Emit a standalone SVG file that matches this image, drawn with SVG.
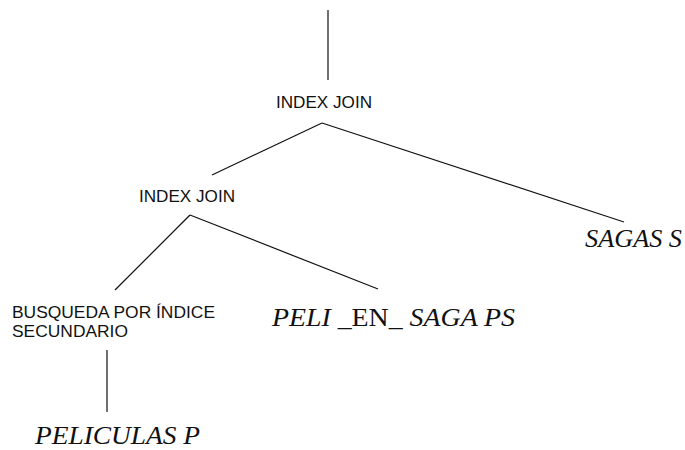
<svg xmlns="http://www.w3.org/2000/svg" width="685" height="450" viewBox="0 0 685 450">
  <style>
    .op { font-family: "Liberation Sans", Arial, sans-serif; font-size: 17px; fill: #111; }
    .rel { font-family: "Liberation Serif", "Times New Roman", serif; font-size: 26px; font-style: italic; fill: #111; }
    .plain { font-style: normal; }
    .edge { stroke: #111; stroke-width: 1.2; fill: none; }
  </style>
  <rect width="685" height="450" fill="#ffffff"/>

  <!-- tree edges -->
  <g id="connectors">
    <line class="edge" x1="328" y1="10" x2="328" y2="80"/>
    <line class="edge" x1="322" y1="123" x2="212" y2="175"/>
    <line class="edge" x1="322" y1="123" x2="624" y2="222"/>
    <line class="edge" x1="190" y1="215" x2="115" y2="290"/>
    <line class="edge" x1="190" y1="215" x2="378" y2="289"/>
    <line class="edge" x1="107" y1="350" x2="107" y2="412"/>
  </g>

  <g id="join-top">
    <text class="op" x="276" y="108" textLength="96" lengthAdjust="spacingAndGlyphs">INDEX JOIN</text>
  </g>

  <g id="join-inner">
    <text class="op" x="139" y="202" textLength="96" lengthAdjust="spacingAndGlyphs">INDEX JOIN</text>
  </g>

  <g id="sec-index-search">
    <text class="op" x="12" y="318" textLength="203" lengthAdjust="spacingAndGlyphs">BUSQUEDA POR ÍNDICE</text>
    <text class="op" x="12" y="337" textLength="116" lengthAdjust="spacingAndGlyphs">SECUNDARIO</text>
  </g>

  <g id="rel-peli-en-saga">
    <text class="rel" x="272" y="326" textLength="243" lengthAdjust="spacingAndGlyphs">PELI <tspan class="plain">_EN_</tspan> SAGA PS</text>
  </g>

  <g id="rel-sagas">
    <text class="rel" x="585" y="247" textLength="97" lengthAdjust="spacingAndGlyphs">SAGAS S</text>
  </g>

  <g id="rel-peliculas">
    <text class="rel" x="35" y="444" textLength="165" lengthAdjust="spacingAndGlyphs">PELICULAS P</text>
  </g>
</svg>
